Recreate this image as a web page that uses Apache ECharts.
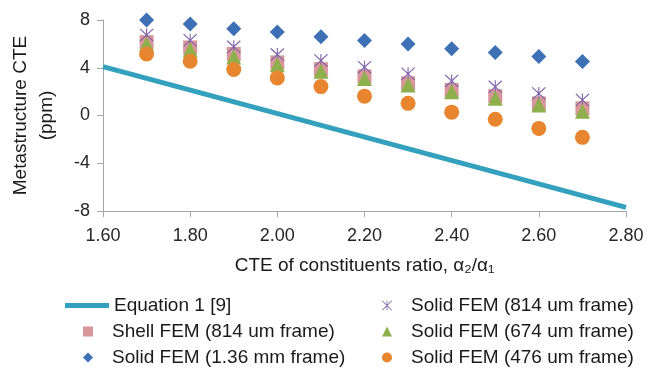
<!DOCTYPE html>
<html>
<head>
<meta charset="utf-8">
<script src="https://cdn.jsdelivr.net/npm/echarts@6/dist/echarts.min.js"></script>
<style>html,body{margin:0;padding:0;background:#fff;}#c{width:650px;height:372px;}</style>
</head>
<body>
<div id="c"></div>
<script>
// ---- data ----
const ratios = [1.7, 1.8, 1.9, 2.0, 2.1, 2.2, 2.3, 2.4, 2.5, 2.6, 2.7];
const equationX = [1.6, 2.8];
const equationY = [4.1, -7.7];
const shellFem814 = [6.15, 5.7, 5.15, 4.45, 3.88, 3.28, 2.7, 2.14, 1.62, 1.02, 0.6];
const solidFem136mm = [8.0, 7.66, 7.27, 7.0, 6.6, 6.29, 6.0, 5.6, 5.28, 4.94, 4.52];
const solidFem814 = [6.75, 6.3, 5.75, 5.1, 4.6, 4.05, 3.5, 2.9, 2.4, 1.85, 1.3];
const solidFem674 = [6.0, 5.5, 4.9, 4.25, 3.7, 3.1, 2.55, 2.0, 1.45, 0.88, 0.35];
const solidFem476 = [5.15, 4.55, 3.85, 3.15, 2.42, 1.62, 1.02, 0.28, -0.32, -1.08, -1.83];
const seriesNames = ['Equation 1 [9]', 'Shell FEM (814 um frame)', 'Solid FEM (1.36 mm frame)',
  'Solid FEM (814 um frame)', 'Solid FEM (674 um frame)', 'Solid FEM (476 um frame)'];
const xTicks = {min: 1.6, max: 2.8, interval: 0.2};
const yTicks = {min: -8, max: 8, interval: 4};

const pair = (xs, ys) => xs.map((x, i) => [x, ys[i]]);
const FONT = 'Liberation Sans, Arial, sans-serif';
const starPath = 'path://M46 0L54 0L54 100L46 100Z M6 0L100 94L94 100L0 6Z M94 0L100 6L6 100L0 94Z';

const chart = echarts.init(document.getElementById('c'), null, {renderer: 'canvas'});
const legendText = {fontFamily: FONT, fontSize: 19, color: '#1a1a1a', padding: [0, 0, 0, 14]};
chart.setOption({
  animation: false,
  backgroundColor: '#fff',
  textStyle: {fontFamily: FONT},
  grid: {left: 96, right: 24, top: 20, bottom: 161, containLabel: false},
  xAxis: {
    type: 'value', min: xTicks.min, max: xTicks.max, interval: xTicks.interval,
    name: 'CTE of constituents ratio, α₂/α₁', nameLocation: 'middle', nameGap: 45,
    nameTextStyle: {fontFamily: FONT, fontSize: 19, color: '#1a1a1a'},
    axisLine: {show: true, onZero: false, lineStyle: {color: '#a6a6a6', width: 1}},
    axisTick: {show: true, length: 6, lineStyle: {color: '#a6a6a6'}},
    axisLabel: {margin: 16, fontFamily: FONT, fontSize: 18, color: '#262626', formatter: v => v.toFixed(2)},
    splitLine: {show: false}
  },
  yAxis: {
    type: 'value', min: yTicks.min, max: yTicks.max, interval: yTicks.interval,
    name: 'Metastructure CTE\n(ppm)', nameLocation: 'middle', nameRotate: 90, nameGap: 43,
    nameTextStyle: {fontFamily: FONT, fontSize: 19, color: '#1a1a1a', lineHeight: 26},
    axisLine: {show: true, onZero: false, lineStyle: {color: '#a6a6a6', width: 1}},
    axisTick: {show: true, length: 6, lineStyle: {color: '#a6a6a6'}},
    axisLabel: {margin: 13, fontFamily: FONT, fontSize: 18, color: '#262626'},
    splitLine: {show: false}
  },
  legend: [
    {data: [{name: seriesNames[0], icon: 'rect'}], left: 65, top: 296, padding: 0, itemWidth: 44, itemHeight: 5,
      textStyle: {fontFamily: FONT, fontSize: 19, color: '#1a1a1a'}},
    {data: [seriesNames[1], seriesNames[2]], orient: 'vertical', left: 83, top: 322, padding: 0, itemGap: 7,
      itemWidth: 10, itemHeight: 10, textStyle: legendText},
    {data: [seriesNames[3], seriesNames[4], seriesNames[5]], orient: 'vertical', left: 382, top: 296, padding: 0, itemGap: 7,
      itemWidth: 10, itemHeight: 10, textStyle: legendText}
  ],
  series: [
    {name: seriesNames[0], type: 'line', data: pair(equationX, equationY), showSymbol: false, symbol: 'none',
      lineStyle: {color: '#33a0bd', width: 5}, itemStyle: {color: '#33a0bd'}, z: 1},
    {name: seriesNames[1], type: 'scatter', data: pair(ratios, shellFem814), symbol: 'rect', symbolSize: 14,
      itemStyle: {color: '#d9969a', opacity: 1}, z: 2},
    {name: seriesNames[2], type: 'scatter', data: pair(ratios, solidFem136mm), symbol: 'diamond', symbolSize: 15,
      itemStyle: {color: '#3d70b5', opacity: 1}, z: 2},
    {name: seriesNames[3], type: 'scatter', data: pair(ratios, solidFem814), symbol: starPath, symbolSize: [14, 13],
      itemStyle: {color: '#7e63a8', opacity: 1}, z: 3},
    {name: seriesNames[4], type: 'scatter', data: pair(ratios, solidFem674), symbol: 'triangle', symbolSize: 15,
      itemStyle: {color: '#8db04d', opacity: 1}, z: 4},
    {name: seriesNames[5], type: 'scatter', data: pair(ratios, solidFem476), symbol: 'circle', symbolSize: 15,
      itemStyle: {color: '#e8862f', opacity: 1}, z: 5}
  ]
});
</script>
</body>
</html>
